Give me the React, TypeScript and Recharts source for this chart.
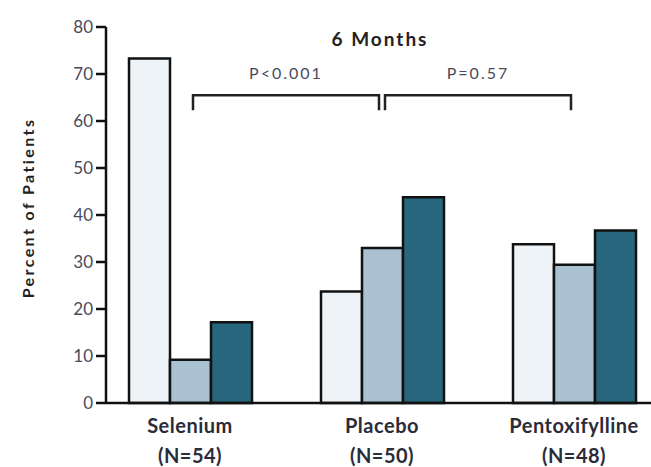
import { Bar, BarChart, ReferenceLine, XAxis, YAxis } from "recharts";

// grouped percentages by treatment arm, three outcome bars per arm
const arms = ["Selenium", "Placebo", "Pentoxifylline"];
const armSizes = ["(N=54)", "(N=50)", "(N=48)"];
const outcomeA = [73.3, 23.7, 33.8];
const outcomeB = [9.2, 33.0, 29.4];
const outcomeC = [17.2, 43.8, 36.7];
const yTicks = [0, 10, 20, 30, 40, 50, 60, 70, 80];

const comparisons = [
  { from: "Selenium", to: "Placebo", level: 65.5, label: "P<0.001" },
  { from: "Placebo", to: "Pentoxifylline", level: 65.5, label: "P=0.57" }
];

const data = arms.map((arm, i) => ({
  arm,
  n: armSizes[i],
  a: outcomeA[i],
  b: outcomeB[i],
  c: outcomeC[i]
}));

const FONT = 'Lato, "Open Sans", sans-serif';

function ArmTick({ x, y, payload, index }: any) {
  return (
    <text
      x={x}
      y={y}
      textAnchor="middle"
      fontFamily={FONT}
      fontWeight={700}
      fontSize={20}
      letterSpacing={0.5}
      fill="#2b2b3a"
    >
      <tspan x={x} dy={22}>{payload.value}</tspan>
      <tspan x={x} dy={30}>{armSizes[index]}</tspan>
    </text>
  );
}

function bracket(label: string) {
  return (props: any) => {
    const { x1, y1, x2 } = props;
    const l = x1 + 3;
    const r = x2 - 3;
    return (
      <g>
        <path d={`M${l},${y1 + 15}V${y1}H${r}V${y1 + 15}`} fill="none" stroke="#222" strokeWidth={2.5} />
        <text
          x={(l + r) / 2}
          y={y1 - 16}
          textAnchor="middle"
          fontFamily={FONT}
          fontSize={16}
          letterSpacing={2}
          fill="#4a4a5c"
        >
          {label}
        </text>
      </g>
    );
  };
}

export default function App() {
  return (
    <div style={{ position: "relative", width: 651, height: 467, background: "#fff" }}>
      <style>{`body{margin:0}`}</style>
      <div
        style={{
          position: "absolute",
          left: 300,
          top: 27,
          width: 160,
          textAlign: "center",
          fontFamily: FONT,
          fontWeight: 700,
          fontSize: 19,
          letterSpacing: 2,
          color: "#222"
        }}
      >
        6 Months
      </div>
      <BarChart
        width={651}
        height={467}
        data={data}
        margin={{ top: 27, right: 0, bottom: 4, left: 0 }}
        barGap={0}
        barSize={41}
      >
        <XAxis
          dataKey="arm"
          tickLine={false}
          axisLine={{ stroke: "#111", strokeWidth: 2.5 }}
          tick={<ArmTick />}
          height={60}
          padding={{ left: -12, right: -19 }}
          interval={0}
        />
        <YAxis
          domain={[0, 80]}
          ticks={yTicks}
          width={106}
          tickSize={10}
          tickMargin={3}
          axisLine={{ stroke: "#111", strokeWidth: 2.5 }}
          tickLine={{ stroke: "#111", strokeWidth: 2.5 }}
          tick={{ fill: "#4a4a5c", fontSize: 17, fontFamily: FONT }}
          label={{
            value: "Percent of Patients",
            angle: -90,
            position: "insideLeft",
            offset: 28,
            dy: -7,
            style: {
              textAnchor: "middle",
              fontFamily: FONT,
              fontWeight: 700,
              fontSize: 16,
              letterSpacing: 2.4,
              fill: "#222"
            }
          }}
        />
        {comparisons.map((c) => (
          <ReferenceLine
            key={c.label}
            segment={[
              { x: c.from, y: c.level },
              { x: c.to, y: c.level }
            ]}
            shape={bracket(c.label)}
          />
        ))}
        <Bar dataKey="a" fill="#eef3f7" stroke="#111" strokeWidth={2.5} isAnimationActive={false} />
        <Bar dataKey="b" fill="#a9c1d0" stroke="#111" strokeWidth={2.5} isAnimationActive={false} />
        <Bar dataKey="c" fill="#28667e" stroke="#111" strokeWidth={2.5} isAnimationActive={false} />
      </BarChart>
    </div>
  );
}
